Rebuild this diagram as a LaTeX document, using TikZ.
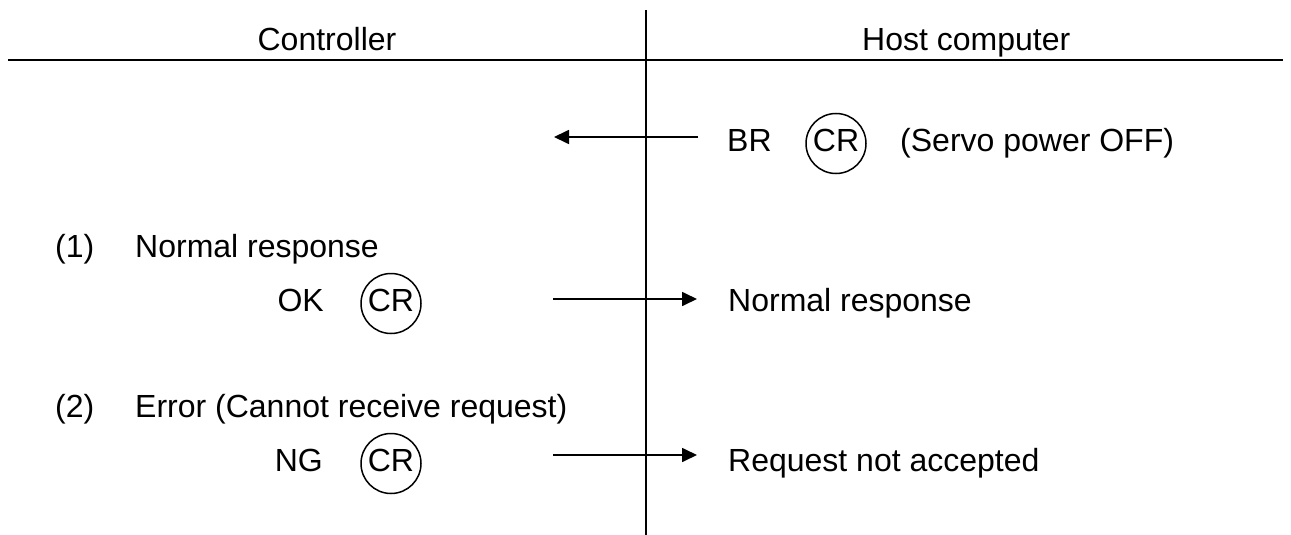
\documentclass[tikz,border=0pt]{standalone}
\usepackage{fontspec}
\setmainfont{Liberation Sans}
\usetikzlibrary{shapes.geometric,arrows.meta}
\tikzset{
  lbl/.style={inner sep=0pt, font=\fontsize{32}{38}\selectfont},
  crbox/.style={ellipse, draw, line width=1.5pt, inner sep=0pt, minimum width=60pt, minimum height=60pt,
     text height=23pt, text depth=8pt, font=\fontsize{32}{38}\selectfont},
  msg/.style={line width=1.7pt, -{Triangle[length=15pt,width=14pt]}},
  rule/.style={line width=2.5pt},
  lifeline/.style={line width=2pt}
}
\begin{document}
\begin{tikzpicture}[x=1pt,y=-1pt]
\useasboundingbox (0,0) rectangle (1291,535);
% header
\node[lbl, anchor=base] (ctl) at (327,51) {Controller};
\node[lbl, anchor=base west] (host) at (862,51) {Host computer};
\coordinate (hl) at (8,60);
\coordinate (hr) at (1283,60);
\draw[rule] (hl) -- (hr);
\coordinate (vt) at (646,10);
\coordinate (vb) at (646,535);
\draw[lifeline] (vt) -- (vb);
% BR row
\node[lbl, anchor=base west] (br) at (727,151) {BR};
\node[crbox, anchor=base] (cr1) at (836,151) {\makebox[0pt]{CR}};
\node[lbl, anchor=base west] (servo) at (900,151) {(Servo power OFF)};
\coordinate (a1s) at (698,137);
\coordinate (a1e) at (554,137);
\draw[msg] (a1s) -- (a1e);
% (1)
\node[lbl, anchor=base west] (n1) at (55,257) {(1)};
\node[lbl, anchor=base west] (t1) at (135,257) {Normal response};
\node[lbl, anchor=base east] (ok) at (324,311) {OK};
\node[crbox, anchor=base] (cr2) at (391,311) {\makebox[0pt]{CR}};
\node[lbl, anchor=base west] (r1) at (728,311) {Normal response};
\coordinate (a2s) at (553,299);
\coordinate (a2e) at (697,299);
\draw[msg] (a2s) -- (a2e);
% (2)
\node[lbl, anchor=base west] (n2) at (55,417) {(2)};
\node[lbl, anchor=base west] (t2) at (135,417) {Error (Cannot receive request)};
\node[lbl, anchor=base east] (ng) at (323,471) {NG};
\node[crbox, anchor=base] (cr3) at (391,471) {\makebox[0pt]{CR}};
\node[lbl, anchor=base west] (r2) at (728,471) {Request not accepted};
\coordinate (a3s) at (553,455);
\coordinate (a3e) at (697,455);
\draw[msg] (a3s) -- (a3e);
\end{tikzpicture}
\end{document}
